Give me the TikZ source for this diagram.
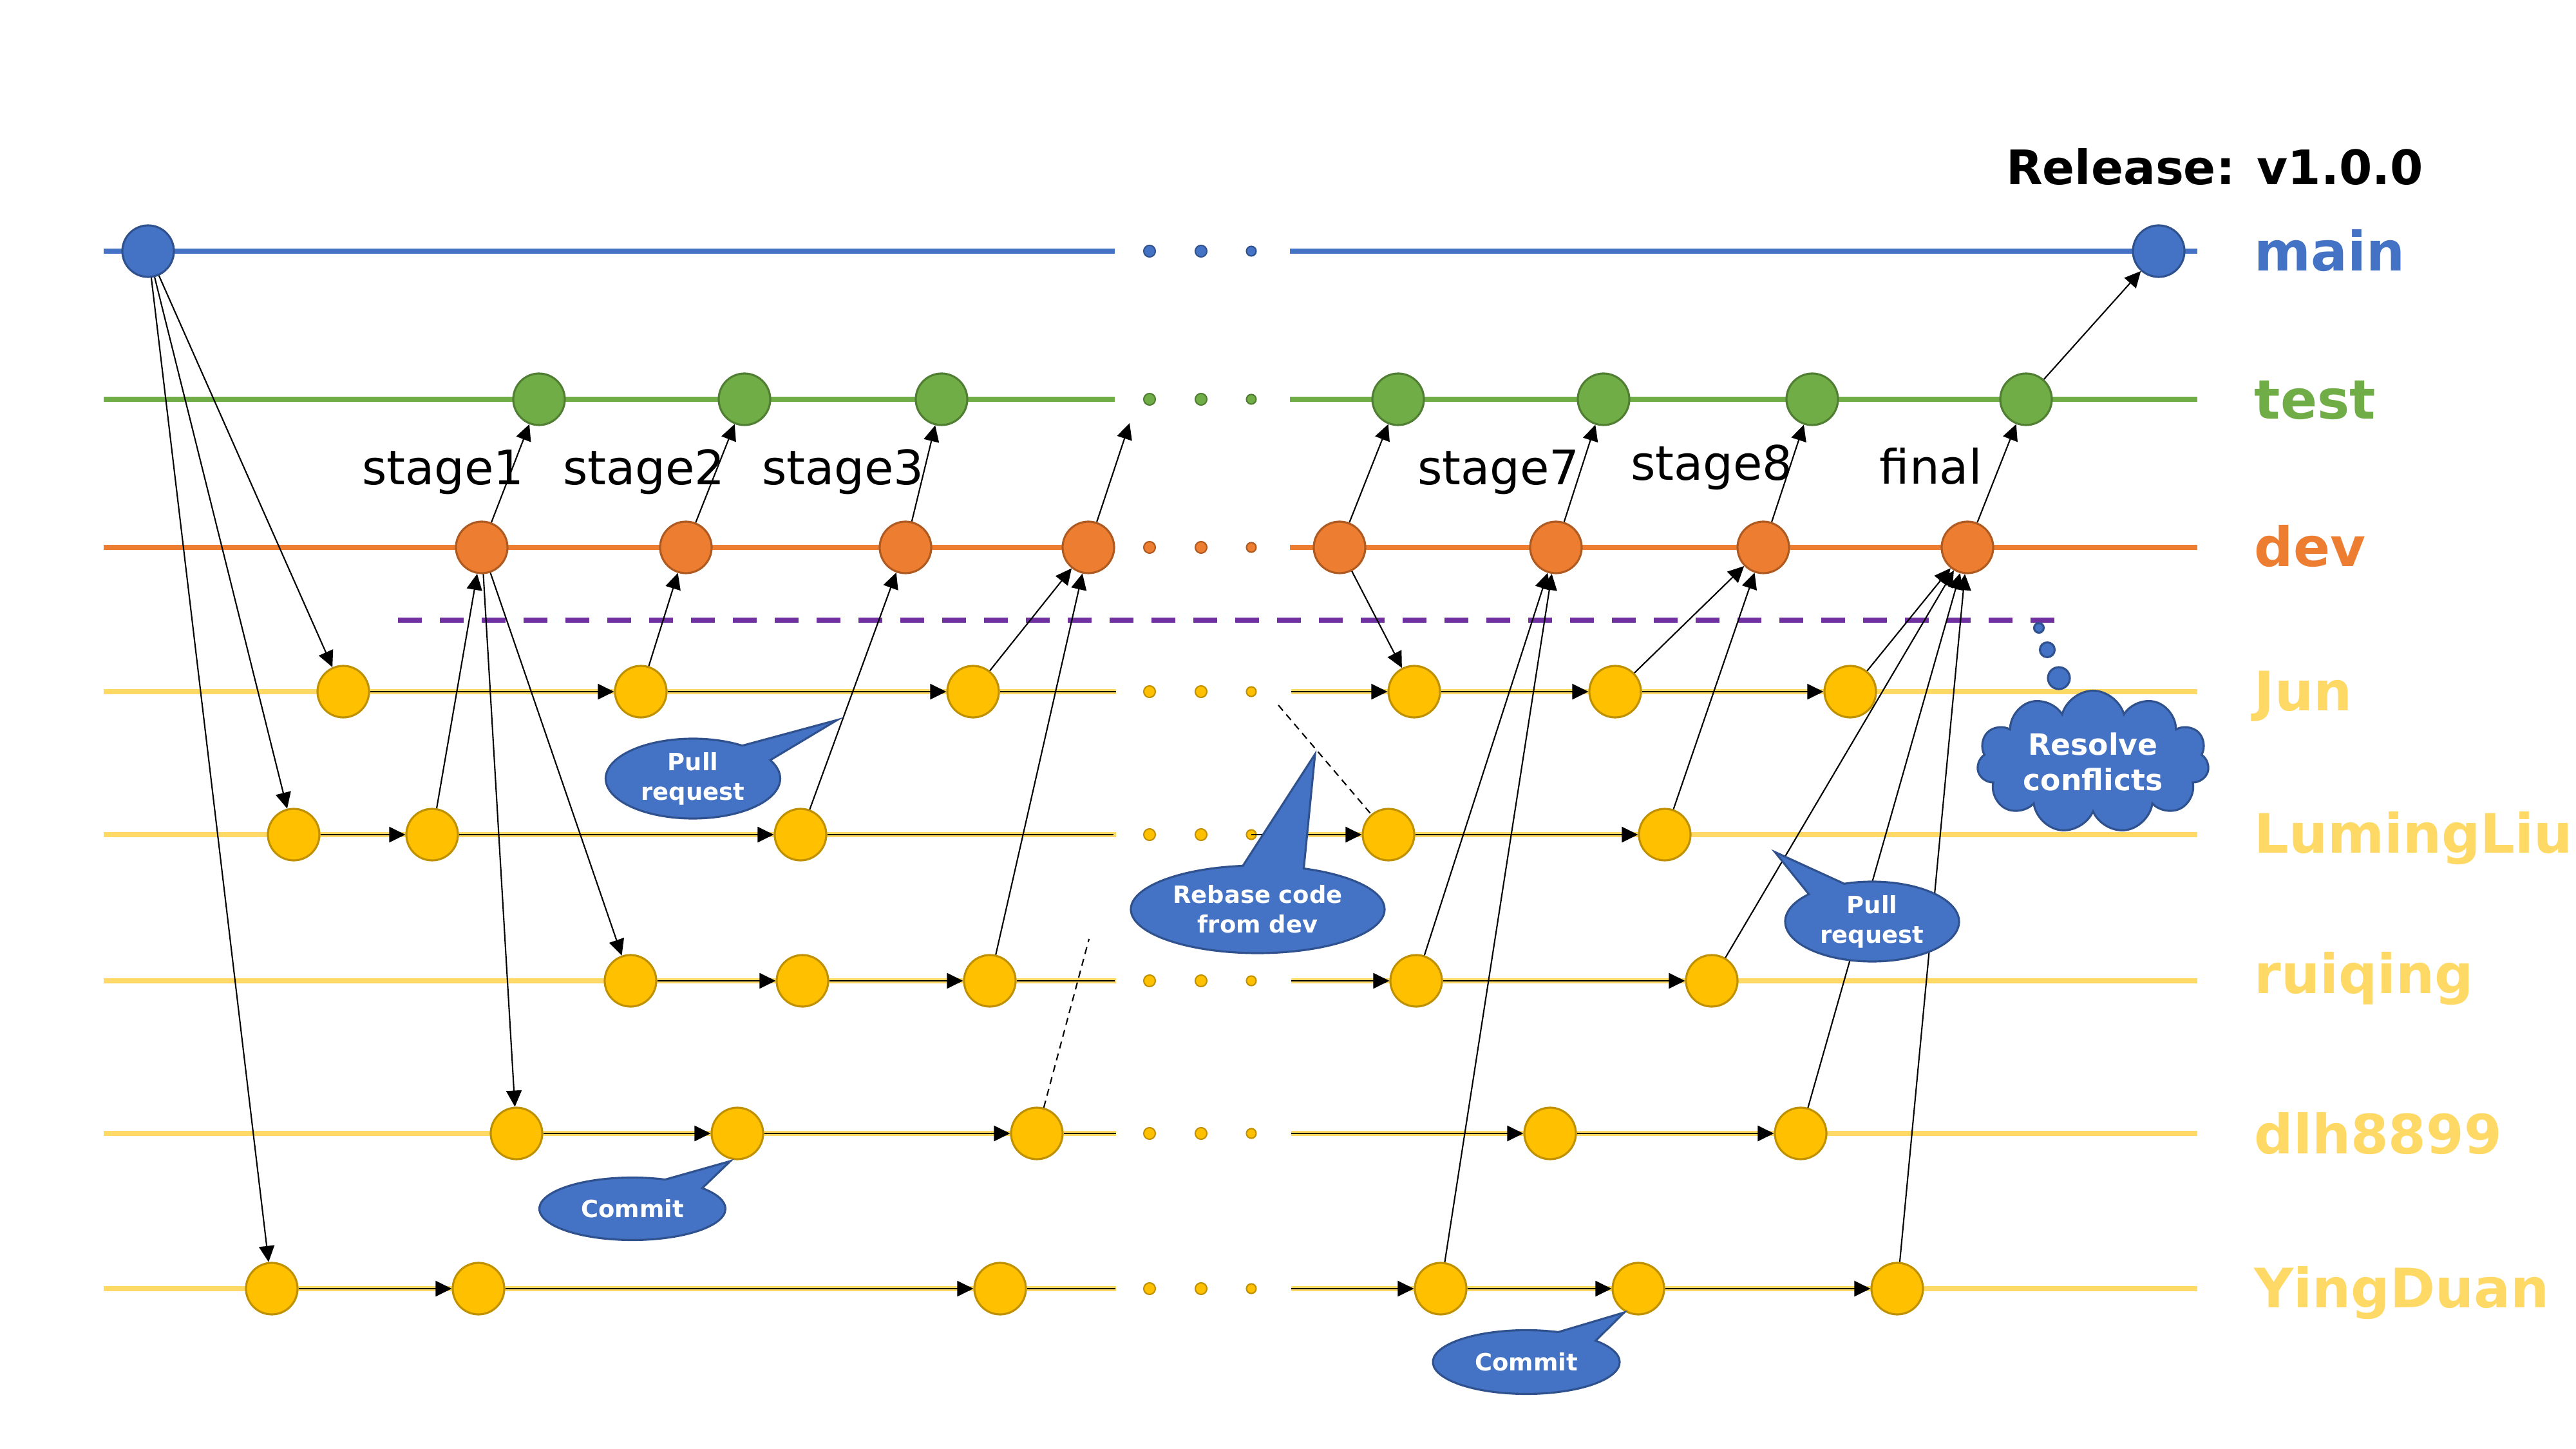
\documentclass[tikz,border=0pt]{standalone}
\usepackage{fontspec}
\setmainfont{DejaVu Sans}
\usepackage{tikz}
\usetikzlibrary{arrows.meta,
shapes.geometric,
shapes.callouts,
shapes.symbols
}
\definecolor{mainblue}{HTML}{4472C4}
\definecolor{mainedge}{HTML}{2F528F}
\definecolor{testgreen}{HTML}{70AD47}
\definecolor{testedge}{HTML}{507E32}
\definecolor{devorange}{HTML}{ED7D31}
\definecolor{devedge}{HTML}{AE5A21}
\definecolor{usergold}{HTML}{FFC000}
\definecolor{goldedge}{HTML}{BF9000}
\definecolor{lanegold}{HTML}{FFD966}
\definecolor{splitpurple}{HTML}{7030A0}
\tikzset{>={Triangle[length=2.5mm,width=2.4mm]}}
\tikzset{
  commit/.style={circle, minimum size=8mm, inner sep=0pt, line width=0.9pt},
  maincommit/.style={commit, fill=mainblue, draw=mainedge},
  testcommit/.style={commit, fill=testgreen, draw=testedge},
  devcommit/.style={commit, fill=devorange, draw=devedge},
  usercommit/.style={commit, fill=usergold, draw=goldedge},
  lane/.style={line width=2.3pt},
  flow/.style={->, line width=0.6pt},
  hint/.style={line width=0.6pt, dash pattern=on 1.1mm off 0.8mm},
  lanelabel/.style={anchor=base west, inner sep=0pt, font=\fontsize{24}{28}\selectfont\bfseries},
  stagelabel/.style={anchor=base, inner sep=0pt, font=\fontsize{21}{25}\selectfont},
  talk/.style={ellipse callout, callout pointer arc=28, fill=mainblue, draw=mainedge,
    line width=0.9pt, text=white, align=center, inner sep=0pt,
    font=\fontsize{10.5}{13}\selectfont\bfseries}
}

\begin{document}
\begin{tikzpicture}
\useasboundingbox (0,0) rectangle (40,-22.5);

% lanes
\draw[lane, mainblue] (1.61,-3.90) -- (17.31,-3.90) (20.03,-3.90) -- (34.12,-3.90);
\draw[lane, testgreen] (1.61,-6.20) -- (17.31,-6.20) (20.03,-6.20) -- (34.12,-6.20);
\draw[lane, devorange] (1.61,-8.50) -- (17.31,-8.50) (20.03,-8.50) -- (34.12,-8.50);
\draw[lane, lanegold] (1.61,-10.74) -- (17.33,-10.74) (20.05,-10.74) -- (34.12,-10.74);
\draw[lane, lanegold] (1.61,-12.96) -- (17.33,-12.96) (20.05,-12.96) -- (34.12,-12.96);
\draw[lane, lanegold] (1.61,-15.23) -- (17.33,-15.23) (20.05,-15.23) -- (34.12,-15.23);
\draw[lane, lanegold] (1.61,-17.60) -- (17.33,-17.60) (20.05,-17.60) -- (34.12,-17.60);
\draw[lane, lanegold] (1.61,-20.01) -- (17.33,-20.01) (20.05,-20.01) -- (34.12,-20.01);

% dots between the two halves
\foreach \y/\fc/\dc in {-3.90/mainblue/mainedge, -6.20/testgreen/testedge,
  -8.50/devorange/devedge, -10.74/usergold/goldedge, -12.96/usergold/goldedge,
  -15.23/usergold/goldedge, -17.60/usergold/goldedge, -20.01/usergold/goldedge}
  \filldraw[fill=\fc, draw=\dc, line width=0.6pt] (17.85,\y) circle (0.09)
    (18.65,\y) circle (0.09) (19.43,\y) circle (0.075);

% split line
\draw[splitpurple, line width=2.5pt, dash pattern=on 3.7mm off 2.8mm] (6.18,-9.63) -- (32.05,-9.63);

% main
\node[maincommit] (mn0) at (2.30,-3.90) {};
\node[maincommit] (mn1) at (33.52,-3.90) {};

% test
\node[testcommit] (ts1) at (8.37,-6.20) {};
\node[testcommit] (ts2) at (11.56,-6.20) {};
\node[testcommit] (ts3) at (14.62,-6.20) {};
\node[testcommit] (ts4) at (21.71,-6.20) {};
\node[testcommit] (ts5) at (24.90,-6.20) {};
\node[testcommit] (ts6) at (28.14,-6.20) {};
\node[testcommit] (ts7) at (31.46,-6.20) {};

% dev
\node[devcommit] (dv1) at (7.48,-8.50) {};
\node[devcommit] (dv2) at (10.65,-8.50) {};
\node[devcommit] (dv3) at (14.06,-8.50) {};
\node[devcommit] (dv4) at (16.90,-8.50) {};
\node[devcommit] (dv5) at (20.80,-8.50) {};
\node[devcommit] (dv6) at (24.16,-8.50) {};
\node[devcommit] (dv7) at (27.38,-8.50) {};
\node[devcommit] (dv8) at (30.55,-8.50) {};

% Jun
\node[usercommit] (jun1) at (5.33,-10.74) {};
\node[usercommit] (jun2) at (9.95,-10.74) {};
\node[usercommit] (jun3) at (15.11,-10.74) {};
\node[usercommit] (jun4) at (21.96,-10.74) {};
\node[usercommit] (jun5) at (25.08,-10.74) {};
\node[usercommit] (jun6) at (28.73,-10.74) {};

% LumingLiu
\node[usercommit] (lml1) at (4.56,-12.96) {};
\node[usercommit] (lml2) at (6.71,-12.96) {};
\node[usercommit] (lml3) at (12.43,-12.96) {};
\node[usercommit] (lml4) at (21.56,-12.96) {};
\node[usercommit] (lml5) at (25.85,-12.96) {};

% ruiqing
\node[usercommit] (rq1) at (9.79,-15.23) {};
\node[usercommit] (rq2) at (12.46,-15.23) {};
\node[usercommit] (rq3) at (15.37,-15.23) {};
\node[usercommit] (rq4) at (21.99,-15.23) {};
\node[usercommit] (rq5) at (26.58,-15.23) {};

% dlh8899
\node[usercommit] (dlh1) at (8.02,-17.60) {};
\node[usercommit] (dlh2) at (11.45,-17.60) {};
\node[usercommit] (dlh3) at (16.10,-17.60) {};
\node[usercommit] (dlh4) at (24.07,-17.60) {};
\node[usercommit] (dlh5) at (27.96,-17.60) {};

% YingDuan
\node[usercommit] (yd1) at (4.22,-20.01) {};
\node[usercommit] (yd2) at (7.43,-20.01) {};
\node[usercommit] (yd3) at (15.53,-20.01) {};
\node[usercommit] (yd4) at (22.37,-20.01) {};
\node[usercommit] (yd5) at (25.44,-20.01) {};
\node[usercommit] (yd6) at (29.46,-20.01) {};

% ends of the lanes next to the dots
\coordinate (junL) at (17.33,-10.74);
\coordinate (junR) at (20.05,-10.74);
\coordinate (lmlL) at (17.29,-12.96);
\coordinate (lmlR) at (19.43,-12.96);
\coordinate (rqL) at (17.31,-15.23);
\coordinate (rqR) at (20.05,-15.23);
\coordinate (dlhL) at (17.33,-17.60);
\coordinate (dlhR) at (20.05,-17.60);
\coordinate (ydL) at (17.32,-20.01);
\coordinate (ydR) at (20.05,-20.01);
\coordinate (dvup) at (17.54,-6.57);
\coordinate (dlhup) at (16.91,-14.58);
\coordinate (rebase) at (19.85,-10.95);

% commits along the lanes
\draw[flow] (jun1) -- (jun2);
\draw[flow] (jun2) -- (jun3);
\draw[line width=0.6pt] (jun3) -- (junL);
\draw[flow] (junR) -- (jun4);
\draw[flow] (jun4) -- (jun5);
\draw[flow] (jun5) -- (jun6);

\draw[flow] (lml1) -- (lml2);
\draw[flow] (lml2) -- (lml3);
\draw[line width=0.6pt] (lml3) -- (lmlL);
\draw[flow] (lmlR) -- (lml4);
\draw[flow] (lml4) -- (lml5);

\draw[flow] (rq1) -- (rq2);
\draw[flow] (rq2) -- (rq3);
\draw[line width=0.6pt] (rq3) -- (rqL);
\draw[flow] (rqR) -- (rq4);
\draw[flow] (rq4) -- (rq5);

\draw[flow] (dlh1) -- (dlh2);
\draw[flow] (dlh2) -- (dlh3);
\draw[line width=0.6pt] (dlh3) -- (dlhL);
\draw[flow] (dlhR) -- (dlh4);
\draw[flow] (dlh4) -- (dlh5);

\draw[flow] (yd1) -- (yd2);
\draw[flow] (yd2) -- (yd3);
\draw[line width=0.6pt] (yd3) -- (ydL);
\draw[flow] (ydR) -- (yd4);
\draw[flow] (yd4) -- (yd5);
\draw[flow] (yd5) -- (yd6);

% branches from main
\draw[flow] (mn0) -- (jun1);
\draw[flow] (mn0) -- (lml1);
\draw[flow] (mn0) -- (yd1);

% merges and pulls
\draw[flow] (lml2) -- (dv1);
\draw[flow] (dv1) -- (ts1);
\draw[flow] (dv1) -- (rq1);
\draw[flow] (dv1) -- (dlh1);
\draw[flow] (jun2) -- (dv2);
\draw[flow] (dv2) -- (ts2);
\draw[flow] (lml3) -- (dv3);
\draw[flow] (dv3) -- (ts3);
\draw[flow] (jun3) -- (dv4);
\draw[flow] (rq3) -- (dv4);
\draw[flow] (dv4) -- (dvup);
\draw[flow] (dv5) -- (ts4);
\draw[flow] (dv5) -- (jun4);
\draw[flow] (rq4) -- (dv6);
\draw[flow] (yd4) -- (dv6);
\draw[flow] (dv6) -- (ts5);
\draw[flow] (jun5) -- (dv7);
\draw[flow] (lml5) -- (dv7);
\draw[flow] (dv7) -- (ts6);
\draw[flow] (jun6) -- (dv8);
\draw[flow] (rq5) -- (dv8);
\draw[flow] (dlh5) -- (dv8);
\draw[flow] (yd6) -- (dv8);
\draw[flow] (dv8) -- (ts7);
\draw[flow] (ts7) -- (mn1);

\draw[hint] (dlh3) -- (dlhup);
\draw[hint] (rebase) -- (lml4);

% stage names
\node[stagelabel] (st1) at (6.88,-7.53) {stage1};
\node[stagelabel] (st2) at (10.00,-7.53) {stage2};
\node[stagelabel] (st3) at (13.09,-7.53) {stage3};
\node[stagelabel] (st7) at (23.27,-7.53) {stage7};
\node[stagelabel] (st8) at (26.58,-7.46) {stage8};
\node[stagelabel] (stf) at (29.98,-7.52) {final};

\node[anchor=base, inner sep=0pt, font=\fontsize{21}{25}\selectfont\bfseries] (rel) at (34.39,-2.87) {Release: v1.0.0};

% lane names
\node[lanelabel, text=mainblue] (lbmain) at (35.00,-4.21) {main};
\node[lanelabel, text=testgreen] (lbtest) at (35.00,-6.51) {test};
\node[lanelabel, text=devorange] (lbdev) at (35.00,-8.80) {dev};
\node[lanelabel, text=lanegold] (lbjun) at (35.00,-11.04) {Jun};
\node[lanelabel, text=lanegold] (lblml) at (35.00,-13.25) {LumingLiu};
\node[lanelabel, text=lanegold] (lbrq) at (35.00,-15.43) {ruiqing};
\node[lanelabel, text=lanegold] (lbdlh) at (35.00,-17.91) {dlh8899};
\node[lanelabel, text=lanegold] (lbyd) at (35.00,-20.30) {YingDuan};

% callouts
\node[talk, minimum width=2.71cm, minimum height=1.24cm,
  callout absolute pointer={(13.00,-11.18)}] (pr1) at (10.76,-12.09) {Pull\\request};
\node[talk, minimum width=3.94cm, minimum height=1.36cm,
  callout absolute pointer={(20.42,-11.71)}] (rb) at (19.53,-14.12) {Rebase code\\from dev};
\node[talk, minimum width=2.70cm, minimum height=1.24cm,
  callout absolute pointer={(27.56,-13.23)}] (pr2) at (29.07,-14.31) {Pull\\request};
\node[talk, minimum width=2.89cm, minimum height=0.97cm,
  callout absolute pointer={(11.34,-18.03)}] (cm1) at (9.82,-18.77) {Commit};
\node[talk, minimum width=2.90cm, minimum height=0.99cm,
  callout absolute pointer={(25.22,-20.38)}] (cm2) at (23.70,-21.15) {Commit};

% thought cloud
\filldraw[fill=mainblue, draw=mainedge, line width=0.9pt] (31.66,-9.75) circle (0.075);
\filldraw[fill=mainblue, draw=mainedge, line width=0.9pt] (31.79,-10.09) circle (0.115);
\filldraw[fill=mainblue, draw=mainedge, line width=0.9pt] (31.97,-10.53) circle (0.17);
\node[cloud, cloud puffs=11, aspect=1.9, fill=mainblue, draw=mainedge, line width=0.9pt,
  minimum width=3.6cm, minimum height=1.9cm, inner sep=0pt, text=white, align=center,
  font=\fontsize{13}{15.5}\selectfont\bfseries] (conf) at (32.50,-11.83) {Resolve\\conflicts};
\end{tikzpicture}
\end{document}
